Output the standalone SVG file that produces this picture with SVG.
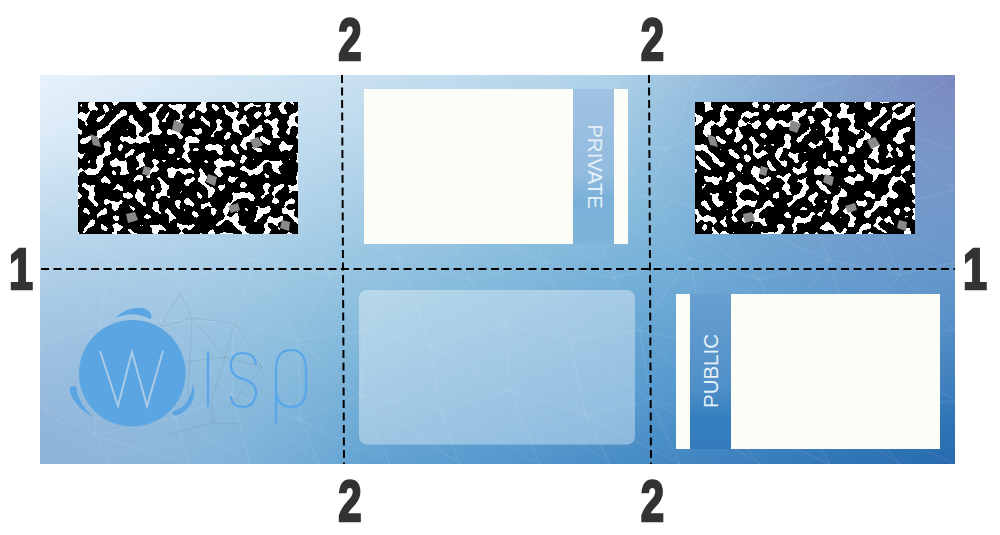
<svg xmlns="http://www.w3.org/2000/svg" width="1000" height="535" viewBox="0 0 1000 535">
<style>
.d{font-family:"Liberation Sans",Arial,sans-serif;font-weight:700;font-size:60px;fill:#333;stroke:#333;stroke-width:2.6;text-anchor:middle}
.w{fill:#fdfdf8}
.l{font-family:"Liberation Sans",Arial,sans-serif;fill:#e6f0f8;text-anchor:middle}
.c{fill:none;stroke:#000;stroke-width:2;stroke-dasharray:8 4.5}
.m{fill:none;stroke:#fff;stroke-width:.8;opacity:.13}
.g{fill:none;stroke:#5b6f80;stroke-width:.8;opacity:.22}
.b{fill:none;stroke:#58a6ea;stroke-width:2.200;stroke-linecap:round}
</style>
<defs>
<linearGradient id="bg" x1="0" y1="0" x2="1" y2="1"><stop offset="0" stop-color="#e8f2fb"/><stop offset=".25" stop-color="#bcd9ec"/><stop offset=".5" stop-color="#86bbdc"/><stop offset=".75" stop-color="#5599ce"/><stop offset="1" stop-color="#2669ae"/></linearGradient>
<radialGradient id="tr" gradientUnits="userSpaceOnUse" cx="955" cy="75" r="340"><stop offset="0" stop-color="#7a89c0"/><stop offset="1" stop-color="#7a9ccb" stop-opacity="0"/></radialGradient>
<radialGradient id="bl" gradientUnits="userSpaceOnUse" cx="40" cy="464" r="320"><stop offset="0" stop-color="#8fb0d8" stop-opacity=".85"/><stop offset="1" stop-color="#a6c8e4" stop-opacity="0"/></radialGradient>
<linearGradient id="b1" x1="0" y1="0" x2="0" y2="1"><stop offset="0" stop-color="#a0c2e2"/><stop offset=".55" stop-color="#92bbdf"/><stop offset=".72" stop-color="#78b0d7"/><stop offset="1" stop-color="#7fb3d9"/></linearGradient>
<linearGradient id="b2" x1="0" y1="0" x2="0" y2="1"><stop offset="0" stop-color="#699fd0"/><stop offset=".6" stop-color="#4f8fc8"/><stop offset=".78" stop-color="#3780bf"/><stop offset="1" stop-color="#337bbc"/></linearGradient>
<filter id="noise" x="0" y="0" width="1" height="1" color-interpolation-filters="sRGB">
<feTurbulence type="fractalNoise" baseFrequency="0.125" numOctaves="1" seed="7"/>
<feColorMatrix type="matrix" values="1 0 0 0 0 1 0 0 0 0 1 0 0 0 0 0 0 0 0 1"/>
<feComponentTransfer><feFuncR type="discrete" tableValues="0 0 0 0 0 0 0 0 0 1 1 1 1 1 1 1"/><feFuncG type="discrete" tableValues="0 0 0 0 0 0 0 0 0 1 1 1 1 1 1 1"/><feFuncB type="discrete" tableValues="0 0 0 0 0 0 0 0 0 1 1 1 1 1 1 1"/></feComponentTransfer>
</filter>
<path id="grey" fill="#8a8a8a" d="M12 32l8 3 3 10-8-2zM48 112l9-2 3 8-10 3zM96 18l10 4-4 9-8-3zM130 72l9 3-2 9-9-4zM172 38l8-3 5 8-9 4zM204 118l8 2-1 9-9-3zM66 64l7 2-2 8-7-2zM150 104l10-3 2 7-9 3z"/>
</defs>

<g id="background">
<rect x="40" y="75" width="915" height="389" fill="url(#bg)"/>
<rect x="40" y="75" width="915" height="389" fill="url(#tr)"/>
<rect x="40" y="75" width="915" height="389" fill="url(#bl)"/>
<path class="m" d="M40 128L105 145L170 120L240 150L320 130L385 140L455 125L530 150L600 130L665 150L735 120L810 145L880 125L955 150
M40 205L85 190L160 215L225 195L295 210L370 195L440 215L510 190L585 210L650 195L720 215L800 195L870 210L955 190
M40 270L110 255L180 280L255 260L330 275L400 258L470 280L545 262L615 278L690 258L760 280L830 260L900 275L955 262
M40 345L100 325L160 320L233 322L298 340L365 330L430 345L505 325L570 340L640 330L705 345L780 325L850 340L955 330
M40 405L95 435L175 417L232 394L300 420L360 395L440 410L510 390L585 415L650 400L720 415L790 395L860 420L955 400
M110 75L105 145L190 75L170 120L260 75L240 150L330 75L320 130L400 75L385 140L480 75L455 125L560 75L530 150L620 75L600 130L700 75L665 150L760 75L735 120L850 75L810 145L900 75L880 125L955 75
M40 128L85 190L105 145L160 215L170 120L225 195L240 150L295 210L320 130L370 195L385 140L440 215L455 125L510 190L530 150L585 210L600 130L650 195L665 150L720 215L735 120L800 195L810 145L870 210L880 125L955 190
M40 205L110 255L85 190L180 280L160 215L255 260L225 195L330 275L295 210L400 258L370 195L470 280L440 215L545 262L510 190L615 278L585 210L690 258L650 195L760 280L720 215L830 260L800 195L900 275L870 210L955 262
M40 270L100 325L110 255L160 320L180 280L233 322L255 260L298 340L330 275L365 330L400 258L430 345L470 280L505 325L545 262L570 340L615 278L640 330L690 258L705 345L760 280L780 325L830 260L850 340L900 275L955 330
M40 345L95 435L100 325L175 417L160 320L232 394L233 322L300 420L298 340L360 395L365 330L440 410L430 345L510 390L505 325L585 415L570 340L650 400L640 330L720 415L705 345L790 395L780 325L860 420L850 340L955 400
M40 405L110 464L95 435L190 464L175 417L250 464L232 394L320 464L300 420L390 464L360 395L460 464L440 410L540 464L510 390L610 464L585 415L680 464L650 400L760 464L720 415L830 464L790 395L900 464L860 420L955 464"/>
<path class="g" d="M180 293L192 318L235 323L225 357L262 367L235 400L212 423L167 435M192 318L225 357M180 293L160 327M192 318L160 327M235 323L262 367M225 357L212 400L212 423M225 357L185 362M212 423L240 424M192 318L188 400"/>
</g>

<g id="connectors">
<path class="c" d="M41 269H955"/>
<path class="c" d="M342 75L344 464"/>
<path class="c" d="M649 75L651 464"/>
</g>

<g id="noise-left"><rect x="78" y="102" width="220" height="132" filter="url(#noise)"/><use href="#grey" x="78" y="102"/></g>
<g id="noise-right"><rect x="695" y="102" width="220" height="132" filter="url(#noise)"/><use href="#grey" x="695" y="102"/></g>

<g id="private-card">
<rect x="573" y="89" width="41" height="155" fill="url(#b1)"/>
<rect class="w" x="364" y="89" width="209" height="155"/>
<rect class="w" x="614" y="89" width="14" height="155"/>
<text class="l" font-size="20.500" transform="translate(587.500 166.500) rotate(90)">PRIVATE</text>
</g>

<g id="blank-card"><rect x="359" y="290" width="276" height="154.500" rx="8" fill="#fff" fill-opacity=".36"/></g>

<g id="public-card">
<rect x="690" y="294" width="41" height="155" fill="url(#b2)"/>
<rect class="w" x="676" y="294" width="14" height="155"/>
<rect class="w" x="731" y="294" width="209" height="155"/>
<text class="l" font-size="20.500" transform="translate(718 371) rotate(-90)">PUBLIC</text>
</g>

<g id="wisp-logo">
<circle cx="132.300" cy="373.300" r="53.300" fill="#5aa5e2"/>
<path d="M100 351L118 406L132 352L147 406L163 351" fill="none" stroke="#a9cbe8" stroke-width="2"/>
<path d="M115 318Q128 306 143 308Q152 311 151.500 318Q150 320 146 317Q133 311 115 318Z" fill="#5aa5e2"/>
<path d="M93 417Q76 408 70 393Q68 386 74 386Q78 387 77 392Q80 405 93 417Z" fill="#5aa5e2"/>
<path d="M193 384Q197 400 186 410Q178 417 173 415Q171 411 176 410Q190 406 193 384Z" fill="#5aa5e2"/>
<path class="b" d="M208 352V406"/>
<path class="b" d="M256 364Q254 353 243 353Q231 353 231 366Q231 376 243 379Q257 383 256 394Q254 407 243 407Q232 407 231 397"/>
<path class="b" d="M276 423V370Q276 350 291 350Q306 350 306 370V388Q306 407 291 407Q276 407 276 388"/>
</g>

<g id="digits">
<text class="d" transform="translate(350 60) scale(.7 1)">2</text>
<text class="d" transform="translate(652.500 60) scale(.7 1)">2</text>
<text class="d" transform="translate(350 521) scale(.7 .95)">2</text>
<text class="d" transform="translate(652.500 521) scale(.7 .95)">2</text>
<text class="d" transform="translate(21 289) scale(.72 .95)">1</text>
<text class="d" transform="translate(975 289) scale(.72 .95)">1</text>
</g>
</svg>
